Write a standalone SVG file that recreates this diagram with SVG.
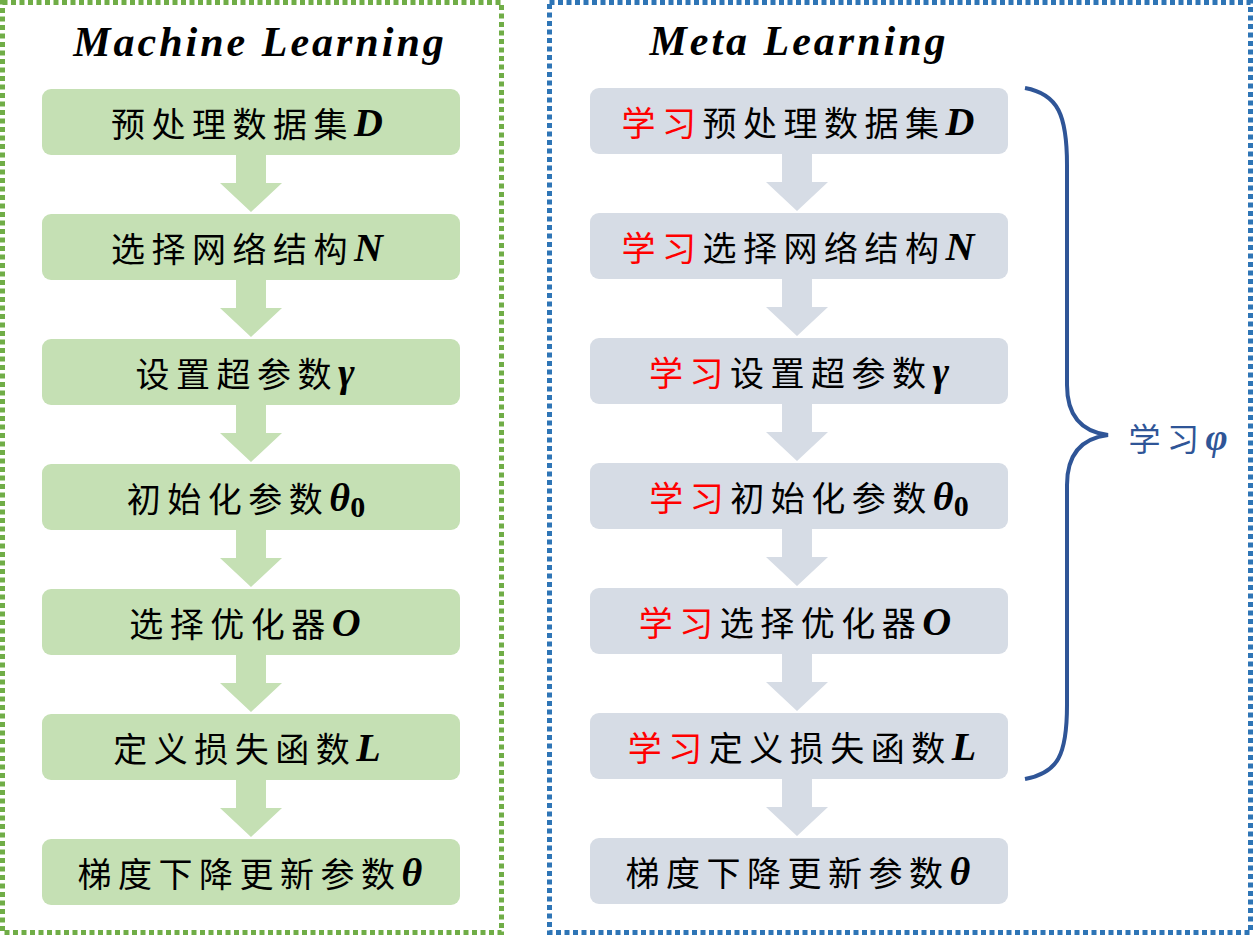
<svg xmlns="http://www.w3.org/2000/svg" width="1254" height="936" viewBox="0 0 1254 936">
<style>
.t{font-family:"Noto Sans CJK SC","Liberation Serif",serif;font-size:34px;letter-spacing:6.5px;fill:#000;text-anchor:middle;dominant-baseline:central}
.m{font-family:"Liberation Serif",serif;font-weight:bold;font-style:italic;font-size:40px;letter-spacing:0}
.sub{font-family:"Liberation Serif",serif;font-weight:bold;font-size:30px;letter-spacing:0}
.r{fill:#FF0000}
.title{font-family:"Liberation Serif",serif;font-weight:bold;font-style:italic;font-size:42px;letter-spacing:3px;text-anchor:middle;fill:#000}
.g{fill:#C5E0B4}
.b{fill:#D6DCE5}
</style>
<rect x="2.5" y="2.5" width="499" height="930" fill="none" stroke="#70AD47" stroke-width="5" stroke-dasharray="5 3.5"/>
<rect x="549.5" y="2.5" width="701" height="930" fill="none" stroke="#2E75B6" stroke-width="5" stroke-dasharray="5 3.5"/>
<text class="title" x="260" y="56">Machine Learning</text>
<text class="title" x="799" y="55">Meta Learning</text>
<g id="connectors">
<polygon class="g" points="236,155 266,155 266,183 282,183 251,212 220,183 236,183"/>
<polygon class="g" points="236,280 266,280 266,308 282,308 251,337 220,308 236,308"/>
<polygon class="g" points="236,405 266,405 266,433 282,433 251,462 220,433 236,433"/>
<polygon class="g" points="236,530 266,530 266,558 282,558 251,587 220,558 236,558"/>
<polygon class="g" points="236,655 266,655 266,683 282,683 251,712 220,683 236,683"/>
<polygon class="g" points="236,780 266,780 266,808 282,808 251,837 220,808 236,808"/>
<polygon class="b" points="782,154 812,154 812,182 828,182 797,211 766,182 782,182"/>
<polygon class="b" points="782,279 812,279 812,307 828,307 797,336 766,307 782,307"/>
<polygon class="b" points="782,404 812,404 812,432 828,432 797,461 766,432 782,432"/>
<polygon class="b" points="782,529 812,529 812,557 828,557 797,586 766,557 782,557"/>
<polygon class="b" points="782,654 812,654 812,682 828,682 797,711 766,682 782,682"/>
<polygon class="b" points="782,779 812,779 812,807 828,807 797,836 766,807 782,807"/>
<path d="M1025,88 C1058,94 1067,115 1067,165 L1067,385 C1067,418 1084,432 1108,435 C1084,438 1067,452 1067,485 L1067,705 C1067,755 1058,773 1025,779" fill="none" stroke="#2F5597" stroke-width="4"/>
</g>
<g id="ml1"><rect class="g" x="42" y="89" width="418" height="66" rx="9"/><text class="t" x="247" y="122">预处理数据集<tspan class="m">D</tspan></text></g>
<g id="ml2"><rect class="g" x="42" y="214" width="418" height="66" rx="9"/><text class="t" x="247" y="247">选择网络结构<tspan class="m">N</tspan></text></g>
<g id="ml3"><rect class="g" x="42" y="339" width="418" height="66" rx="9"/><text class="t" x="245" y="372">设置超参数<tspan class="m">γ</tspan></text></g>
<g id="ml4"><rect class="g" x="42" y="464" width="418" height="66" rx="9"/><text class="t" x="246" y="497">初始化参数<tspan class="m">θ</tspan><tspan class="sub" dy="9">0</tspan></text></g>
<g id="ml5"><rect class="g" x="42" y="589" width="418" height="66" rx="9"/><text class="t" x="245" y="622">选择优化器<tspan class="m">O</tspan></text></g>
<g id="ml6"><rect class="g" x="42" y="714" width="418" height="66" rx="9"/><text class="t" x="247" y="747">定义损失函数<tspan class="m">L</tspan></text></g>
<g id="ml7"><rect class="g" x="42" y="839" width="418" height="66" rx="9"/><text class="t" x="250" y="872">梯度下降更新参数<tspan class="m">θ</tspan></text></g>
<g id="meta1"><rect class="b" x="590" y="88" width="418" height="66" rx="9"/><text class="t" x="798" y="121"><tspan class="r">学习</tspan>预处理数据集<tspan class="m">D</tspan></text></g>
<g id="meta2"><rect class="b" x="590" y="213" width="418" height="66" rx="9"/><text class="t" x="798" y="246"><tspan class="r">学习</tspan>选择网络结构<tspan class="m">N</tspan></text></g>
<g id="meta3"><rect class="b" x="590" y="338" width="418" height="66" rx="9"/><text class="t" x="799" y="371"><tspan class="r">学习</tspan>设置超参数<tspan class="m">γ</tspan></text></g>
<g id="meta4"><rect class="b" x="590" y="463" width="418" height="66" rx="9"/><text class="t" x="809" y="496"><tspan class="r">学习</tspan>初始化参数<tspan class="m">θ</tspan><tspan class="sub" dy="9">0</tspan></text></g>
<g id="meta5"><rect class="b" x="590" y="588" width="418" height="66" rx="9"/><text class="t" x="795" y="621"><tspan class="r">学习</tspan>选择优化器<tspan class="m">O</tspan></text></g>
<g id="meta6"><rect class="b" x="590" y="713" width="418" height="66" rx="9"/><text class="t" x="802" y="746"><tspan class="r">学习</tspan>定义损失函数<tspan class="m">L</tspan></text></g>
<g id="meta7"><rect class="b" x="590" y="838" width="418" height="66" rx="9"/><text class="t" x="798" y="871">梯度下降更新参数<tspan class="m">θ</tspan></text></g>
<g id="phi"><text class="t" x="1178" y="437" style="fill:#2F5597;font-size:32px">学习<tspan class="m" style="fill:#2F5597;font-size:38px">φ</tspan></text></g>
</svg>
